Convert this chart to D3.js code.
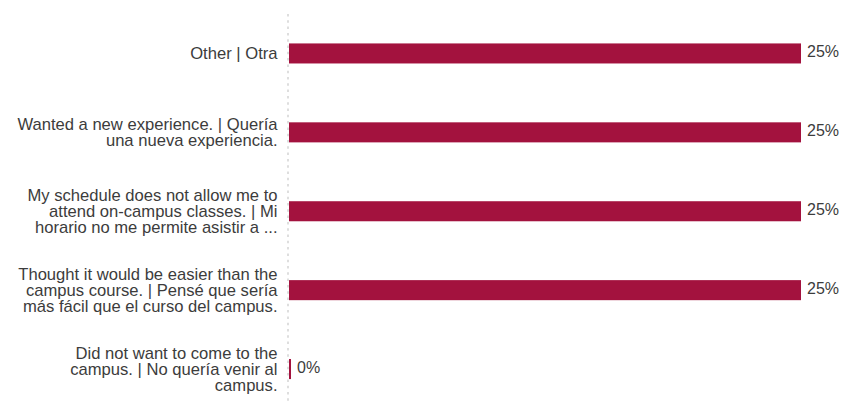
<!DOCTYPE html>
<html>
<head>
<meta charset="utf-8">
<script src="https://cdn.jsdelivr.net/npm/d3@7"></script>
<style>
  html, body { margin: 0; padding: 0; background: #fff; }
  svg { display: block; font-family: "Liberation Sans", Arial, sans-serif; }
</style>
</head>
<body>
<svg id="chart" width="843" height="404"></svg>
<script>
// Survey answers (line breaks mark how each label wraps)
const categories = [
  "Other | Otra",
  "Wanted a new experience. | Quería\nuna nueva experiencia.",
  "My schedule does not allow me to\nattend on-campus classes. | Mi\nhorario no me permite asistir a ...",
  "Thought it would be easier than the\ncampus course. | Pensé que sería\nmás fácil que el curso del campus.",
  "Did not want to come to the\ncampus. | No quería venir al\ncampus."
];
const percentages = [25, 25, 25, 25, 0];

const svg = d3.select("#chart");
const barColor = "#a3123e";
const textColor = "#3c3c3c";

const x = d3.scaleLinear().domain([0, 25]).range([289, 801]);
const y = d3.scaleBand()
  .domain(categories)
  .range([14, 408.5])
  .paddingInner(0.746)
  .paddingOuter(0.373);

// dotted baseline of the category axis
svg.append("line")
  .attr("x1", 288).attr("x2", 288)
  .attr("y1", y.range()[0]).attr("y2", y.range()[1])
  .attr("stroke", "#d6d6d6")
  .attr("stroke-width", 1.6)
  .attr("stroke-dasharray", "2.5,3.8");

const rows = svg.append("g").selectAll("g")
  .data(categories.map((c, i) => ({ cat: c, value: percentages[i] })))
  .join("g");

// bars; an empty answer still shows a thin sliver
rows.append("rect")
  .attr("x", x(0))
  .attr("y", d => y(d.cat))
  .attr("width", d => Math.max(x(d.value) - x(0), 2))
  .attr("height", y.bandwidth())
  .attr("fill", barColor);

// value labels at the end of each bar
rows.append("text")
  .attr("x", d => x(0) + Math.max(x(d.value) - x(0), 2) + 6)
  .attr("y", d => y(d.cat) + y.bandwidth() / 2 + 3.5)
  .attr("fill", textColor)
  .attr("font-size", "16px")
  .text(d => d.value + "%");

// wrapped category labels, centred on their bar
const lineHeight = 16;
rows.append("text")
  .attr("text-anchor", "end")
  .attr("fill", textColor)
  .attr("font-size", "16.6px")
  .each(function(d) {
    const lines = d.cat.split("\n");
    const cy = y(d.cat) + y.bandwidth() / 2;
    const first = cy - (lines.length - 1) * lineHeight / 2 + 6;
    d3.select(this).selectAll("tspan")
      .data(lines)
      .join("tspan")
      .attr("x", 277.5)
      .attr("y", (l, i) => first + i * lineHeight)
      .text(l => l);
  });
</script>
</body>
</html>
